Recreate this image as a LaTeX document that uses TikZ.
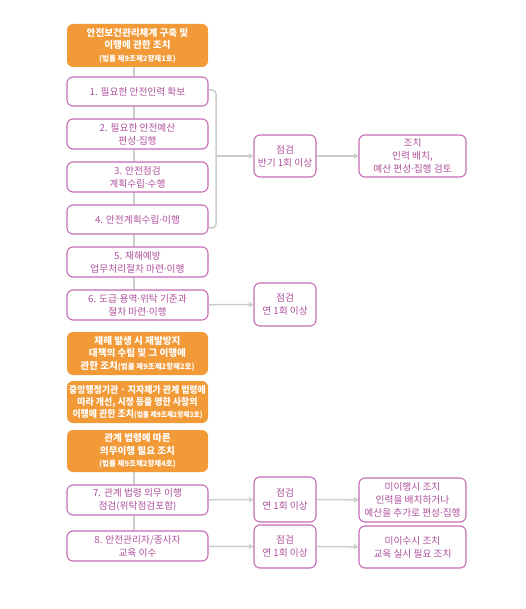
\documentclass[tikz,border=0pt]{standalone}
\usepackage{fontspec}
\setmainfont{Noto Sans CJK KR}
\newfontfamily\condfont[FakeStretch=0.93]{Noto Sans CJK KR}
\newfontfamily\latinfont{Noto Sans}
\newcommand{\md}{{\latinfont ·}}
\usetikzlibrary{arrows.meta,backgrounds}
\definecolor{org}{HTML}{F29A38}
\definecolor{mag}{HTML}{C66BB6}
\definecolor{magtxt}{HTML}{B0529E}
\definecolor{ln}{HTML}{CCCCCC}
\newcommand{\lawtxt}[1]{{\fontsize{7.5}{12}\selectfont #1}}
\begin{document}
\begin{tikzpicture}[x=1pt,y=-1pt,
  box/.style={draw=mag, line width=1.1pt, rounded corners=6pt, fill=white, text=magtxt,
    align=center, font=\fontsize{9.7}{13}\selectfont, inner sep=0pt},
  lbox/.style={box, minimum width=141pt},
  cbox/.style={box, minimum width=62pt},
  rbox/.style={box, minimum width=107pt},
  obox/.style={fill=org, rounded corners=6pt, text=white, align=center, minimum width=141pt,
    inner sep=0pt, font=\fontsize{9.6}{12.3}\selectfont\bfseries},
  conn/.style={draw=ln, line width=1.5pt},
  arr/.style={conn, -{Stealth[length=5pt,width=6pt]}}
]
\useasboundingbox (0,0) rectangle (526,609);

% left column
\node[obox, minimum height=43pt] (o1) at (137.5,45.5) {안전보건관리체계 구축 및\\이행에 관한 조치\\\lawtxt{(법률 제9조제2항제1호)}};
\node[lbox, minimum height=29pt] (b1) at (137.5,91.5) {1. 필요한 안전인력 확보};
\node[lbox, minimum height=30pt] (b2) at (137.5,134) {2. 필요한 안전예산\\편성\md 집행};
\node[lbox, minimum height=30pt] (b3) at (137.5,177) {3. 안전점검\\계획수립\md 수행};
\node[lbox, minimum height=29pt] (b4) at (137.5,219.5) {4. 안전계획수립\md 이행};
\node[lbox, minimum height=30pt] (b5) at (137.5,262) {5. 재해예방\\업무처리절차 마련\md 이행};
\node[lbox, minimum height=30pt] (b6) at (137.5,305) {6. 도급\md 용역\md 위탁 기준과\\절차 마련\md 이행};
\node[obox, minimum height=43pt] (o2) at (137.5,353.5) {재해 발생 시 재발방지\\대책의 수립 및 그 이행에\\관한 조치\lawtxt{(법률 제9조제2항제2호)}};
\node[obox, minimum height=42pt, font=\fontsize{9.6}{12.3}\condfont\bfseries] (o3) at (137.5,402) {중앙행정기관 · 지자체가 관계 법령에\\따라 개선, 시정 등을 명한 사항의\\이행에 관한 조치{\fontsize{7.2}{12}\selectfont(법률 제9조제2항제3호)}};
\node[obox, minimum height=42pt] (o4) at (137.5,451) {관계 법령에 따른\\의무이행 필요 조치\\\lawtxt{(법률 제9조제2항제4호)}};
\node[lbox, minimum height=30pt] (b7) at (137.5,500) {7. 관계 법령 의무 이행\\점검(위탁점검포함)};
\node[lbox, minimum height=30pt] (b8) at (137.5,546) {8. 안전관리자/종사자\\교육 이수};

% check column
\node[cbox, minimum height=42pt] (c1) at (285,156) {점검\\반기 1회 이상};
\node[cbox, minimum height=43pt] (c6) at (285,304.5) {점검\\연 1회 이상};
\node[cbox, minimum height=45pt] (c7) at (285,499.5) {점검\\연 1회 이상};
\node[cbox, minimum height=43pt] (c8) at (285,546.5) {점검\\연 1회 이상};

% action column
\node[rbox, minimum height=42pt] (r1) at (412.5,156) {조치\\인력 배치,\\예산 편성\md 집행 검토};
\node[rbox, minimum height=44pt] (r7) at (412.5,500) {미이행시 조치\\인력을 배치하거나\\예산을 추가로 편성\md 집행};
\node[rbox, minimum height=42pt] (r8) at (412.5,547) {미이수시 조치\\교육 실시 필요 조치};

% connectors
\begin{scope}[on background layer]
  \draw[conn] ([xshift=-3.5pt]o1.south) -- ([xshift=-3.5pt]b6.north);
  \draw[conn] ([xshift=-3.5pt]o4.south) -- ([xshift=-3.5pt]b8.north);
\end{scope}
\coordinate (bx) at (216,0);
\draw[conn, rounded corners=4pt] ([yshift=1.5pt]b1.east) -| (bx |- b4.east) -- ++(0,8.5) -- ([yshift=-8.5pt]b4.east);
\draw[arr] (bx |- c1.west) -- (c1.west);
\draw[arr] (c1) -- (r1);
\draw[arr] (b6) -- (c6);
\draw[arr] (b7) -- (c7);
\draw[arr] (c7) -- (r7);
\draw[arr] (b8) -- (c8);
\draw[arr] (c8) -- (r8);
\end{tikzpicture}
\end{document}
